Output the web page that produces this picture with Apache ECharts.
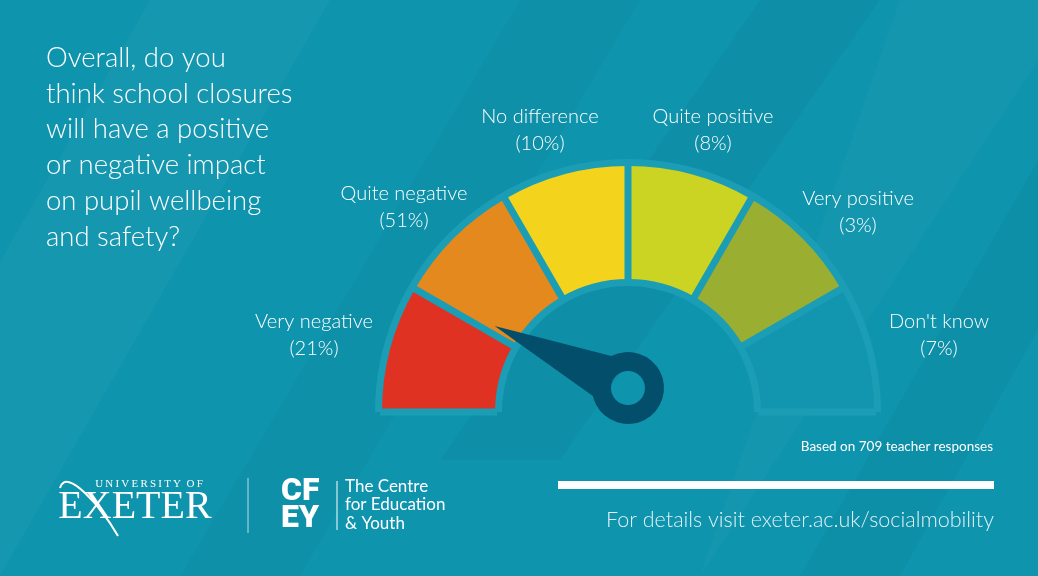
<!DOCTYPE html>
<html>
<head>
<meta charset="utf-8">
<script src="https://cdn.jsdelivr.net/npm/echarts@6/dist/echarts.min.js"></script>
<style>
html,body{margin:0;padding:0;background:#0f95af;}
#chart{width:1038px;height:576px;}
</style>
</head>
<body>
<div id="chart"></div>
<script>
// ---- data ----
const categories = ['Very negative', 'Quite negative', 'No difference', 'Quite positive', 'Very positive', "Don't know"];
const percents = [21, 51, 10, 8, 3, 7];
const needleValue = 0.83;          // needle position on the 0..6 category scale
const questionLines = ['Overall, do you', 'think school closures', 'will have a positive', 'or negative impact', 'on pupil wellbeing', 'and safety?'];
const footnote = 'Based on 709 teacher responses';
const linkText = 'For details visit exeter.ac.uk/socialmobility';

// ---- styles / layout ----
const segColors = ['#df3222', '#e4891d', '#f4d31c', '#cbd422', '#9aaf31', '#1296af'];
const BG = '#0f94ae';
const BAND = '#1b9db6';
const NEEDLE = '#034f6b';
const FONT = 'Lato, "Open Sans", sans-serif';
const gCenter = [628, 412];
const outerR = 246, ringW = 113;
const labelPos = [[314, 335], [404, 207], [540, 130], [713, 130], [858, 212], [939, 335]];

const chart = echarts.init(document.getElementById('chart'), null, {renderer: 'canvas'});

const n = categories.length;
const stops = categories.map((c, i) => [(i + 1) / n, segColors[i]]);

const graphics = [];
// background diagonal bands
const bands = [
  [[150,0],[330,0],[0,576],[-180,576],'rgba(255,255,255,0.03)'],
  [[520,0],[640,0],[300,576],[180,576],'rgba(0,0,0,0.025)'],
  [[760,0],[880,0],[560,460],[440,460],'rgba(0,0,0,0.035)'],
  [[900,0],[1038,0],[1038,60],[700,576],'rgba(255,255,255,0.025)'],
  [[1038,160],[1038,330],[900,576],[800,576],'rgba(0,0,0,0.03)']
];
bands.forEach(b => graphics.push({type:'polygon', z:-10, silent:true, shape:{points:[b[0],b[1],b[2],b[3]]}, style:{fill:b[4]}}));

questionLines.forEach((t, i) => graphics.push({
  type:'text', x:46, y:58 + i*35.8, style:{text:t, fill:'#ffffff', font:'300 27.5px ' + FONT, verticalAlign:'middle'}
}));

categories.forEach((c, i) => graphics.push({
  type:'text', x:labelPos[i][0], y:labelPos[i][1],
  style:{text:c + '\n(' + percents[i] + '%)', fill:'#ffffff', font:'300 20px ' + FONT, align:'center', verticalAlign:'middle', lineHeight:27}
}));

graphics.push({type:'text', x:993, y:447, style:{text:footnote, fill:'#ffffff', font:'13.5px ' + FONT, align:'right', verticalAlign:'middle'}});
graphics.push({type:'rect', shape:{x:558, y:481, width:436, height:8}, style:{fill:'#ffffff'}});
graphics.push({type:'text', x:994, y:520, style:{text:linkText, fill:'#e2f1f5', font:'300 21.5px ' + FONT, align:'right', verticalAlign:'middle'}});

// logos
graphics.push({type:'text', x:149, y:484, style:{text:'U\u2009N\u2009I\u2009V\u2009E\u2009R\u2009S\u2009I\u2009T\u2009Y\u2002O\u2009F', fill:'#ffffff', font:'11px "Liberation Serif", serif', align:'center', verticalAlign:'middle'}});
graphics.push({type:'text', x:135, y:507, style:{text:'EXETER', fill:'#ffffff', font:'40px "Liberation Serif", serif', align:'center', verticalAlign:'middle'}});
graphics.push({type:'bezierCurve', shape:{x1:60, y1:488, cpx1:66, cpy1:466, cpx2:102, cpy2:508, x2:118, y2:536}, style:{stroke:'#ffffff', lineWidth:2, fill:null}});
graphics.push({type:'line', shape:{x1:248, y1:478, x2:248, y2:533}, style:{stroke:'rgba(255,255,255,0.7)', lineWidth:1}});
graphics.push({type:'text', x:281, y:492, style:{text:'CF', fill:'#ffffff', font:'900 32px Roboto, sans-serif', verticalAlign:'middle'}});
graphics.push({type:'text', x:281, y:519, style:{text:'EY', fill:'#ffffff', font:'900 32px Roboto, sans-serif', verticalAlign:'middle'}});
graphics.push({type:'line', shape:{x1:337, y1:481, x2:337, y2:530}, style:{stroke:'#ffffff', lineWidth:1}});
graphics.push({type:'text', x:345, y:505, style:{text:'The Centre\nfor Education\n& Youth', fill:'#ffffff', font:'17px ' + FONT, verticalAlign:'middle', lineHeight:18.5}});

const hidden = {axisTick:{show:false}, axisLabel:{show:false}, detail:{show:false}, title:{show:false}};

const option = {
  backgroundColor: BG,
  animation: false,
  graphic: graphics,
  series: [
    Object.assign({
      type:'gauge', z:1, center:gCenter, radius:outerR + 7, startAngle:180, endAngle:0, min:0, max:n,
      splitNumber:n, pointer:{show:false}, anchor:{show:false},
      axisLine:{lineStyle:{width:ringW + 14, color:[[1, BAND]]}},
      splitLine:{show:false}, data:[]
    }, hidden),
    Object.assign({
      type:'gauge', z:2, center:gCenter, radius:outerR, startAngle:180, endAngle:0, min:0, max:n,
      splitNumber:n, pointer:{show:false}, anchor:{show:false},
      axisLine:{lineStyle:{width:ringW, color:stops}},
      splitLine:{show:true, distance:-(ringW + 2), length:ringW + 4, lineStyle:{color:BAND, width:7}},
      data:[]
    }, hidden),
    Object.assign({
      type:'gauge', z:3, center:[628, 388], radius:150, startAngle:180, endAngle:0, min:0, max:n,
      splitNumber:n, axisLine:{show:false}, splitLine:{show:false}, anchor:{show:false},
      pointer:{show:true, icon:'path://M36 0 L57.96 118.5 A36 36 0 1 1 14.04 118.5 Z M53 147 A17 17 0 1 0 19 147 A17 17 0 1 0 53 147 Z',
        length:183, width:72, offsetCenter:[0, 36], keepAspect:false, itemStyle:{color:NEEDLE}},
      data:[{value:needleValue}]
    }, hidden)
  ]
};
chart.setOption(option);
</script>
</body>
</html>
